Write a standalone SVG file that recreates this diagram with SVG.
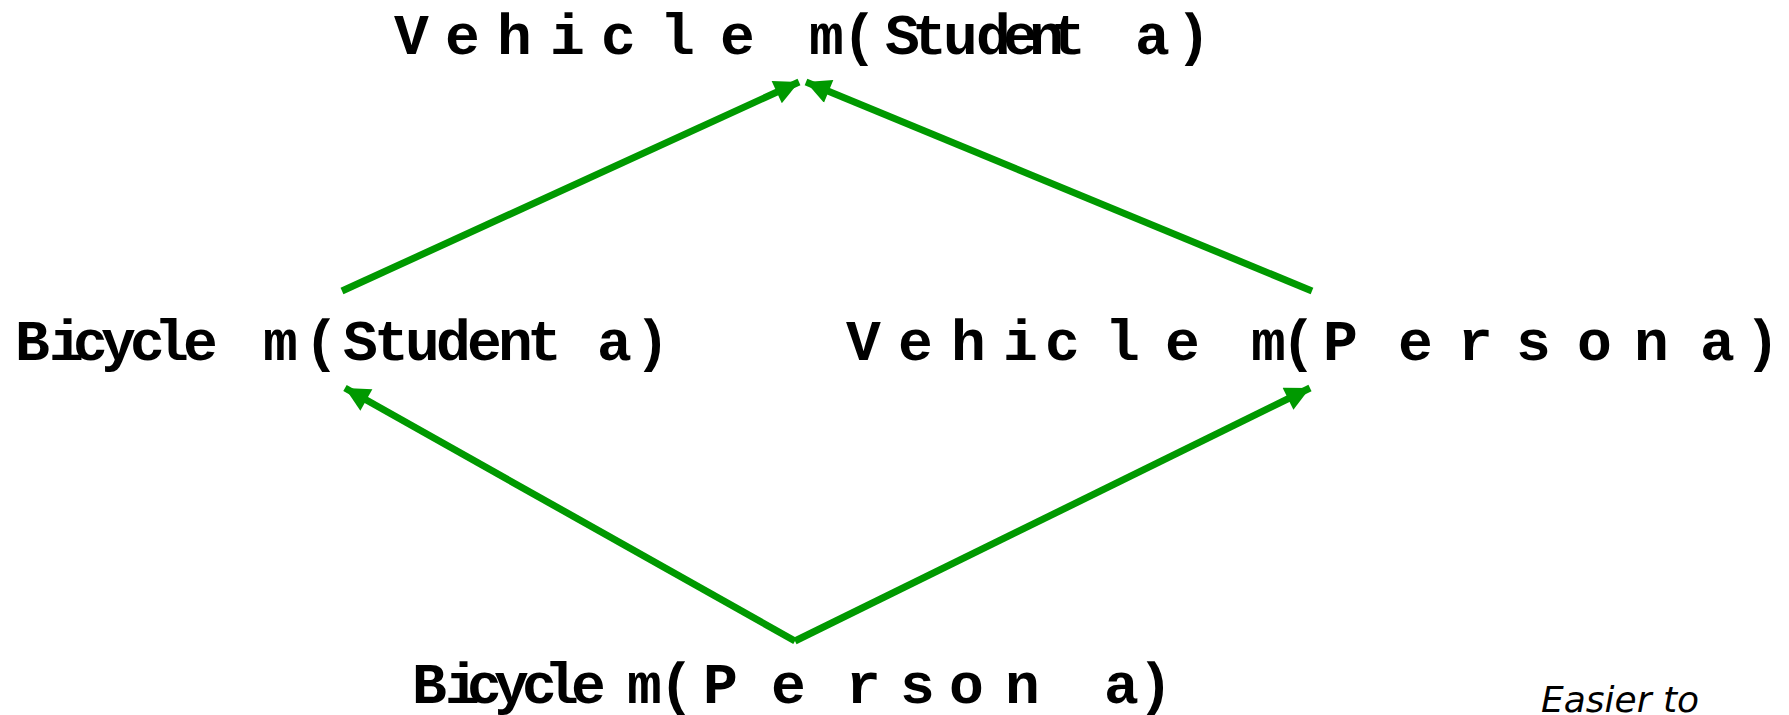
<svg xmlns="http://www.w3.org/2000/svg" width="1789" height="715" viewBox="0 0 1789 715">
<defs>
<style>
.lbl{font-family:"Liberation Mono","DejaVu Sans Mono",monospace;font-weight:bold;font-size:58px;fill:#000}
.note{font-family:"DejaVu Sans",sans-serif;font-style:italic;font-size:36px;fill:#000}
.edge{stroke:#009900;stroke-width:7;fill:none}
</style>
<marker id="ah" viewBox="0 0 10 10" refX="10" refY="5" markerWidth="4.4" markerHeight="3.5" markerUnits="strokeWidth" orient="auto">
<path d="M0,0 L10,5 L0,10 z" fill="#009900"/>
</marker>
</defs>
<rect width="1789" height="715" fill="#fff"/>
<g id="connectors">
<line class="edge" x1="342" y1="291" x2="799" y2="82" marker-end="url(#ah)"/>
<line class="edge" x1="1312" y1="291" x2="806" y2="82" marker-end="url(#ah)"/>
<line class="edge" x1="795" y1="641" x2="345" y2="388" marker-end="url(#ah)"/>
<line class="edge" x1="795" y1="641" x2="1310" y2="388" marker-end="url(#ah)"/>
</g>
<g id="node-vehicle-student">
<text class="lbl" y="54" x="394 445 497 550 601 660 720 765 809 842 885 912 943 976 1003 1029 1051 1095 1135 1176">Vehicle m(Student a)</text>
</g>
<g id="node-bicycle-student">
<text class="lbl" y="360" x="15 49 73 101 130 154 183 225 263 304 343 374 405 436 467 498 527 565 597 635">Bicycle m(Student a)</text>
</g>
<g id="node-vehicle-person">
<text class="lbl" y="360" x="846 898 951 1003 1045 1105 1165 1210 1251 1281 1323 1398 1458 1516 1577 1634 1670 1700 1745">Vehicle m(Person a)</text>
</g>
<g id="node-bicycle-person">
<text class="lbl" y="703" x="412 445 467 494 522 544 571 600 627 659 703 771 846 900 949 1005 1060 1104 1138">Bicycle m(Person a)</text>
</g>
<g id="note">
<text class="note" x="1541" y="712">Easier to</text>
</g>
</svg>
